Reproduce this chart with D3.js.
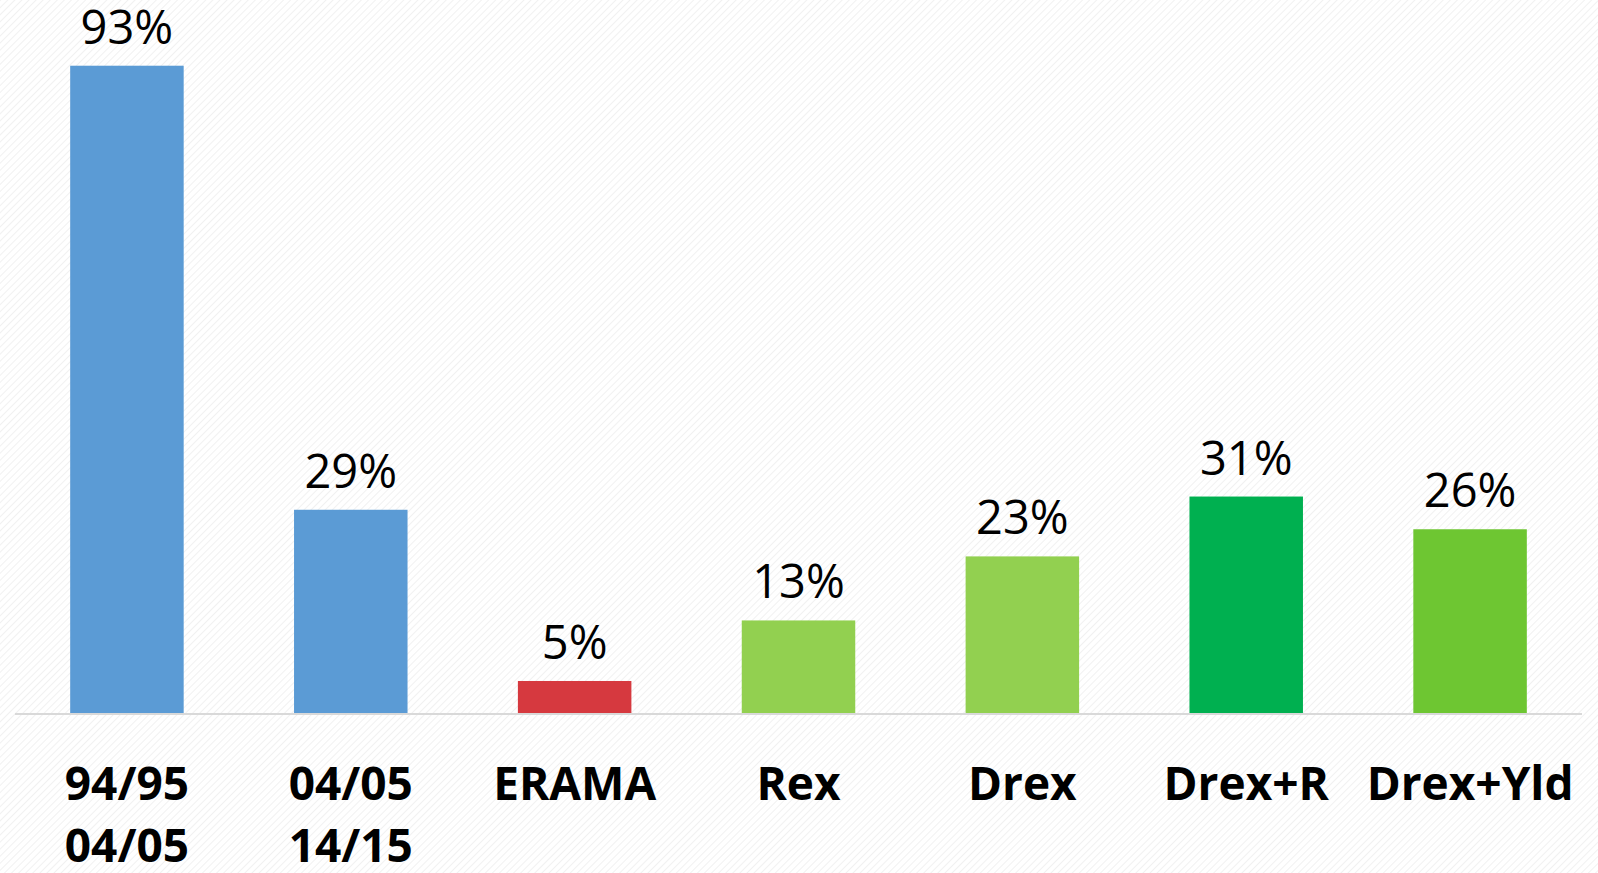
<!DOCTYPE html>
<html>
<head>
<meta charset="utf-8">
<script src="https://cdn.jsdelivr.net/npm/d3@7"></script>
<style>
  body { margin: 0; background: #fff; }
  svg { display: block; }
</style>
</head>
<body>
<script>
// data
const categories = [["94/95", "04/05"], ["04/05", "14/15"], ["ERAMA"], ["Rex"], ["Drex"], ["Drex+R"], ["Drex+Yld"]]
const values = [93, 29.2, 4.6, 13.3, 22.5, 31.1, 26.4]
const colors = ["#5b9bd5", "#5b9bd5", "#d6393f", "#92d050", "#92d050", "#00b050", "#6ec632"]

const width = 1598
const height = 873
const baseY = 713

const svg = d3.select("body").append("svg")
    .attr("width", width)
    .attr("height", height)

// faint diagonal hatch background
const defs = svg.append("defs")
const pat = defs.append("pattern")
    .attr("id", "hatch")
    .attr("width", 5)
    .attr("height", 5)
    .attr("patternUnits", "userSpaceOnUse")
    .attr("patternTransform", "rotate(45)")
pat.append("line")
    .attr("x1", 0).attr("y1", 0)
    .attr("x2", 0).attr("y2", 5)
    .attr("stroke", "#ececec")
    .attr("stroke-width", 1.5)

svg.append("rect")
    .attr("width", width)
    .attr("height", height)
    .attr("fill", "url(#hatch)")

const keys = categories.map((d, i) => i)

const x = d3.scaleBand()
    .domain(keys)
    .range([15, 1582])
    .paddingInner(0.493)
    .paddingOuter(0.2465)

const y = d3.scaleLinear()
    .domain([0, 100])
    .range([baseY, baseY - 696])

const bars = svg.append("g")
bars.selectAll("rect")
    .data(values)
    .enter()
    .append("rect")
    .attr("x", (d, i) => x(i))
    .attr("y", d => y(d))
    .attr("width", x.bandwidth())
    .attr("height", d => y(0) - y(d))
    .attr("fill", (d, i) => colors[i])

// value labels
svg.append("g")
    .selectAll("text")
    .data(values)
    .enter()
    .append("text")
    .attr("x", (d, i) => x(i) + x.bandwidth() / 2)
    .attr("y", d => y(d) - 22)
    .attr("text-anchor", "middle")
    .attr("font-family", "'Open Sans', sans-serif")
    .attr("font-size", 47)
    .attr("fill", "#000")
    .text(d => Math.round(d) + "%")

// baseline
svg.append("line")
    .attr("x1", 15)
    .attr("x2", 1582)
    .attr("y1", baseY + 1)
    .attr("y2", baseY + 1)
    .attr("stroke", "#d9d9d9")
    .attr("stroke-width", 2)

// category labels
const cats = svg.append("g")
    .selectAll("text")
    .data(categories)
    .enter()
    .append("text")
    .attr("x", (d, i) => x(i) + x.bandwidth() / 2)
    .attr("y", 800)
    .attr("text-anchor", "middle")
    .attr("font-family", "'Open Sans', sans-serif")
    .attr("font-weight", "bold")
    .attr("font-size", 46)
    .attr("fill", "#000")

cats.selectAll("tspan")
    .data((d, i) => d.map(t => ({ t, i })))
    .enter()
    .append("tspan")
    .attr("x", d => x(d.i) + x.bandwidth() / 2)
    .attr("dy", (d, j) => j === 0 ? 0 : 62)
    .text(d => d.t)
</script>
</body>
</html>
